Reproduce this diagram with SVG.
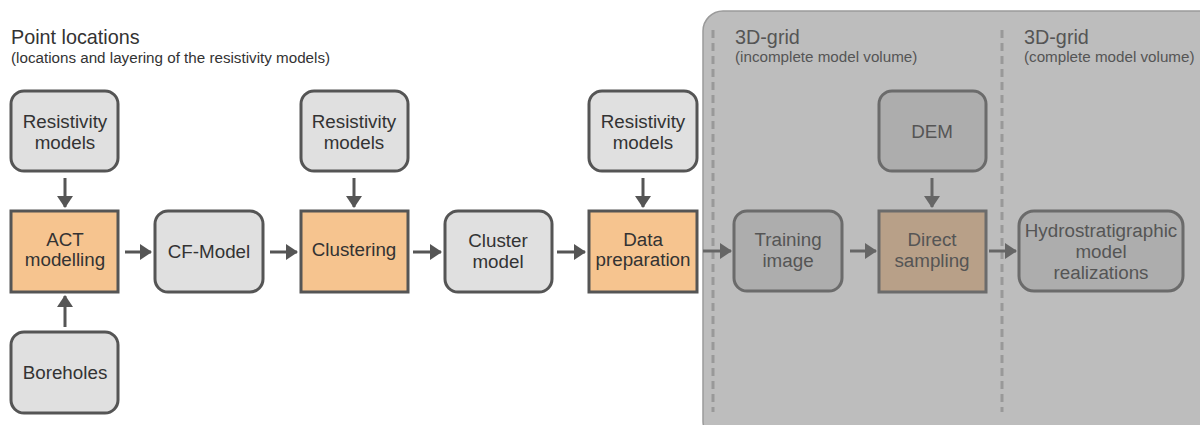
<svg xmlns="http://www.w3.org/2000/svg" width="1200" height="425" viewBox="0 0 1200 425">
  <defs>
    <marker id="ah" viewBox="0 0 12 16" refX="11" refY="8" markerWidth="12" markerHeight="16" markerUnits="userSpaceOnUse" orient="auto">
      <path d="M0,0 L12,8 L0,16 Z" fill="#555"/>
    </marker>
    <marker id="ahg" viewBox="0 0 12 16" refX="11" refY="8" markerWidth="12" markerHeight="16" markerUnits="userSpaceOnUse" orient="auto">
      <path d="M0,0 L12,8 L0,16 Z" fill="#666"/>
    </marker>
  </defs>
  <style>
    text { font-family: "Liberation Sans", Arial, sans-serif; }
    .lbl { font-size: 18.8px; fill: #333; text-anchor: middle; }
    .plbl { font-size: 18.8px; fill: #555; text-anchor: middle; }
    .in { fill: #e0e0e0; stroke: #555; stroke-width: 3; }
    .proc { fill: #f6c48f; stroke: #555; stroke-width: 3; }
    .pin { fill: #adadad; stroke: #6b6b6b; stroke-width: 3; }
    .pproc { fill: #b8a088; stroke: #6b6b6b; stroke-width: 3; }
    .conn { stroke: #555; stroke-width: 3; fill: none; marker-end: url(#ah); }
    .pconn { stroke: #666; stroke-width: 3; fill: none; marker-end: url(#ahg); }
    .div { stroke: #999; stroke-width: 3; stroke-dasharray: 8 5; }
    .h1 { font-size: 19.8px; fill: #333; }
    .h2 { font-size: 15.2px; fill: #333; }
    .ph1 { font-size: 19.8px; fill: #555; }
    .ph2 { font-size: 15.2px; fill: #555; }
  </style>

  <!-- 3D-grid panel background -->
  <g id="grid-panel">
    <rect x="703" y="11" width="520" height="430" rx="20" fill="#bdbdbd" stroke="#9a9a9a" stroke-width="1.5"/>
    <line class="div" x1="713" y1="30" x2="713" y2="412"/>
    <line class="div" x1="1002" y1="30" x2="1002" y2="412"/>
    <text class="ph1" x="735" y="44">3D-grid</text>
    <text class="ph2" x="735" y="62">(incomplete model volume)</text>
    <text class="ph1" x="1024" y="44">3D-grid</text>
    <text class="ph2" x="1024" y="62">(complete model volume)</text>
  </g>

  <!-- heading -->
  <g id="heading">
    <text class="h1" x="11" y="44">Point locations</text>
    <text class="h2" x="11" y="63">(locations and layering of the resistivity models)</text>
  </g>

  <!-- connectors -->
  <g id="connectors">
    <line class="conn" x1="65" y1="178" x2="65" y2="207"/>
    <line class="conn" x1="65" y1="327" x2="65" y2="296"/>
    <line class="conn" x1="125" y1="252" x2="151" y2="252"/>
    <line class="conn" x1="270" y1="252" x2="297" y2="252"/>
    <line class="conn" x1="354" y1="178" x2="354" y2="207"/>
    <line class="conn" x1="413" y1="252" x2="441" y2="252"/>
    <line class="conn" x1="557" y1="252" x2="585" y2="252"/>
    <line class="conn" x1="643" y1="178" x2="643" y2="207"/>
    <line class="pconn" x1="703" y1="251" x2="731" y2="251"/>
    <line class="pconn" x1="850" y1="251" x2="876" y2="251"/>
    <line class="pconn" x1="932" y1="178" x2="932" y2="207"/>
    <line class="pconn" x1="989" y1="251" x2="1016" y2="251"/>
  </g>

  <g id="resistivity-1">
    <rect class="in" x="11" y="91" width="107" height="80" rx="13"/>
    <text class="lbl" x="65" y="128">Resistivity</text>
    <text class="lbl" x="65" y="149">models</text>
  </g>
  <g id="act-modelling">
    <rect class="proc" x="11" y="211" width="107" height="81"/>
    <text class="lbl" x="65" y="246">ACT</text>
    <text class="lbl" x="65" y="266">modelling</text>
  </g>
  <g id="boreholes">
    <rect class="in" x="11" y="332" width="107" height="81" rx="13"/>
    <text class="lbl" x="65" y="379">Boreholes</text>
  </g>
  <g id="cf-model">
    <rect class="in" x="155" y="211" width="108" height="81" rx="13"/>
    <text class="lbl" x="209" y="258">CF-Model</text>
  </g>
  <g id="resistivity-2">
    <rect class="in" x="301" y="91" width="107" height="80" rx="13"/>
    <text class="lbl" x="354" y="128">Resistivity</text>
    <text class="lbl" x="354" y="149">models</text>
  </g>
  <g id="clustering">
    <rect class="proc" x="301" y="211" width="107" height="81"/>
    <text class="lbl" x="354" y="256">Clustering</text>
  </g>
  <g id="cluster-model">
    <rect class="in" x="445" y="211" width="107" height="81" rx="13"/>
    <text class="lbl" x="498" y="247">Cluster</text>
    <text class="lbl" x="498" y="268">model</text>
  </g>
  <g id="resistivity-3">
    <rect class="in" x="589" y="91" width="108" height="80" rx="13"/>
    <text class="lbl" x="643" y="128">Resistivity</text>
    <text class="lbl" x="643" y="149">models</text>
  </g>
  <g id="data-preparation">
    <rect class="proc" x="589" y="211" width="108" height="81"/>
    <text class="lbl" x="643" y="246">Data</text>
    <text class="lbl" x="643" y="266">preparation</text>
  </g>
  <g id="training-image">
    <rect class="pin" x="734" y="211" width="108" height="80" rx="13"/>
    <text class="plbl" x="788" y="246">Training</text>
    <text class="plbl" x="788" y="267">image</text>
  </g>
  <g id="dem">
    <rect class="pin" x="879" y="91" width="107" height="80" rx="13"/>
    <text class="plbl" x="932" y="138">DEM</text>
  </g>
  <g id="direct-sampling">
    <rect class="pproc" x="879" y="211" width="107" height="81"/>
    <text class="plbl" x="932" y="246">Direct</text>
    <text class="plbl" x="932" y="267">sampling</text>
  </g>
  <g id="realizations">
    <rect class="pin" x="1019" y="211" width="164" height="80" rx="15"/>
    <text class="plbl" x="1101" y="237">Hydrostratigraphic</text>
    <text class="plbl" x="1101" y="258">model</text>
    <text class="plbl" x="1101" y="279">realizations</text>
  </g>
</svg>
